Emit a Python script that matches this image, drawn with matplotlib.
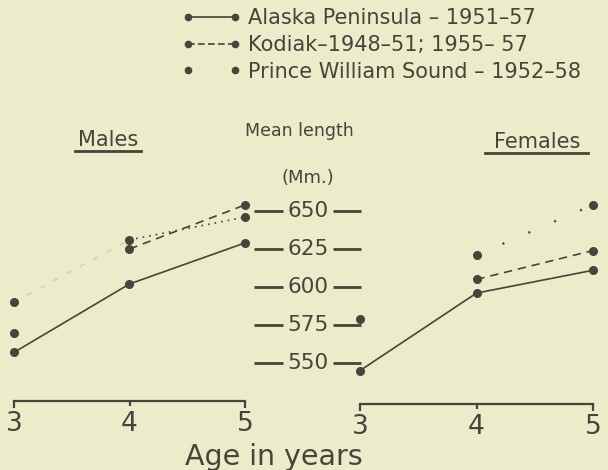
import numpy as np
import matplotlib
matplotlib.use('Agg')
import matplotlib.pyplot as plt
from matplotlib.lines import Line2D

# mean length (mm) by age
ages = [3, 4, 5]
male_alaska = [557, 602, 629]
male_kodiak = [570, 625, 654]
male_pws = [590, 631, 646]
female_alaska = [545, 596, 611]
female_kodiak = [np.nan, 605, 624]
female_pws = [579, 621, 654]
length_ticks = [550, 575, 600, 625, 650]
legend_labels = ["Alaska Peninsula \u2013 1951\u201357",
                 "Kodiak\u20131948\u201351; 1955\u2013 57",
                 "Prince William Sound \u2013 1952\u201358"]

W, H = 608, 470
bg = '#eaecca'
ink = '#45453a'
ms = 5.5
lw = 1.2

plt.rcParams['font.family'] = 'DejaVu Sans'
fig = plt.figure(figsize=(W / 100, H / 100), dpi=100, facecolor=bg)


def fy(py):
    return 1 - py / H


def px_axes(x0, x1, y0, y1):
    ax = fig.add_axes([x0 / W, 1 - y1 / H, (x1 - x0) / W, (y1 - y0) / H])
    ax.set_facecolor('none')
    ax.axis('off')
    return ax


# 650 mm sits at y=211 px, 1.52 px per mm
def ylim_for(y0, y1):
    return (650 - (y1 - 211) / 1.52, 650 - (y0 - 211) / 1.52)


def xlim_for(x0, x1, px3, step):
    return (3 + (x0 - px3) / step, 3 + (x1 - px3) / step)


def draw_panel(ax, alaska, kodiak, pws, faint_first):
    ax.plot(ages, alaska, '-', color=ink, lw=lw, marker='o', ms=ms)
    ax.plot(ages[1:], kodiak[1:], ls=(0, (5, 3.5)), color=ink, lw=lw)
    ax.plot(ages, kodiak, 'o', color=ink, ms=ms)
    if faint_first:
        ax.plot(ages[:2], pws[:2], ls=(0, (3, 6)), color=ink, lw=lw, alpha=0.15)
        ax.plot(ages[1:], pws[1:], ls=(0, (1, 3)), color=ink, lw=lw)
    else:
        ax.plot(ages[1:], pws[1:], ls=(0, (1, 12)), color=ink, lw=lw * 1.3)
    ax.plot(ages, pws, 'o', color=ink, ms=ms)


# males: age 3 at x=14 px, age 5 at x=245 px
axm = px_axes(0, 275, 170, 395)
axm.set_xlim(*xlim_for(0, 275, 14, 115.5))
axm.set_ylim(*ylim_for(170, 395))
draw_panel(axm, male_alaska, male_kodiak, male_pws, True)

# females: age 3 at x=360 px, age 5 at x=593 px
axf = px_axes(335, 608, 170, 395)
axf.set_xlim(*xlim_for(335, 608, 360, 116.5))
axf.set_ylim(*ylim_for(170, 395))
draw_panel(axf, female_alaska, female_kodiak, female_pws, False)

# middle length scale
axc = px_axes(240, 380, 170, 395)
axc.set_xlim(240, 380)
axc.set_ylim(*ylim_for(170, 395))
axc.hlines(length_ticks, 254, 283, color=ink, lw=2)
axc.hlines(length_ticks, 333, 361, color=ink, lw=2)
for v in length_ticks:
    axc.text(308, v, str(v), ha='center', va='center', fontsize=15.5, color=ink)


# age axes at the bottom
def age_axis(x0, x1, y):
    ax = fig.add_axes([x0 / W, fy(y), (x1 - x0) / W, 0.001])
    ax.set_facecolor('none')
    for s in ['top', 'left', 'right']:
        ax.spines[s].set_visible(False)
    ax.spines['bottom'].set_color(ink)
    ax.spines['bottom'].set_linewidth(1.6)
    ax.set_xlim(3, 5)
    ax.set_xticks(ages)
    ax.set_yticks([])
    ax.tick_params(axis='x', direction='out', length=5, width=1.6, color=ink,
                   labelsize=19, labelcolor=ink, pad=2)
    ax.xaxis.get_major_ticks()[1].tick1line.set_markersize(3.5)
    return ax


age_axis(14, 245, 401)
age_axis(360, 593, 404)
fig.text(274 / W, fy(457), 'Age in years', ha='center', va='center',
         fontsize=20.5, color=ink)

# panel titles
fig.text(108 / W, fy(140), 'Males', ha='center', va='center', fontsize=15, color=ink)
fig.add_artist(Line2D([75 / W, 141 / W], [fy(151)] * 2, color=ink, lw=2))
fig.text(537 / W, fy(142), 'Females', ha='center', va='center', fontsize=15, color=ink)
fig.add_artist(Line2D([485 / W, 588 / W], [fy(153)] * 2, color=ink, lw=2))
fig.text(299 / W, fy(131), 'Mean length', ha='center', va='center', fontsize=12.5, color=ink)
fig.text(308 / W, fy(178), '(Mm.)', ha='center', va='center', fontsize=13, color=ink)

# legend
handles = [
    Line2D([], [], color=ink, lw=lw, ls='-', marker='o', ms=4.5),
    Line2D([], [], color=ink, lw=lw, ls=(0, (4, 2)), marker='o', ms=4.5),
    Line2D([], [], color=ink, lw=lw, ls='none', marker='o', ms=4.5),
]
fig.legend(handles, legend_labels, loc='upper left', bbox_to_anchor=(182 / W, fy(8)),
           frameon=False, numpoints=2, handlelength=2.85, handletextpad=0.33,
           borderpad=0, borderaxespad=0, labelspacing=0.33,
           prop={'size': 15}, labelcolor=ink)

fig.savefig('out.png', dpi=100, facecolor=bg)
